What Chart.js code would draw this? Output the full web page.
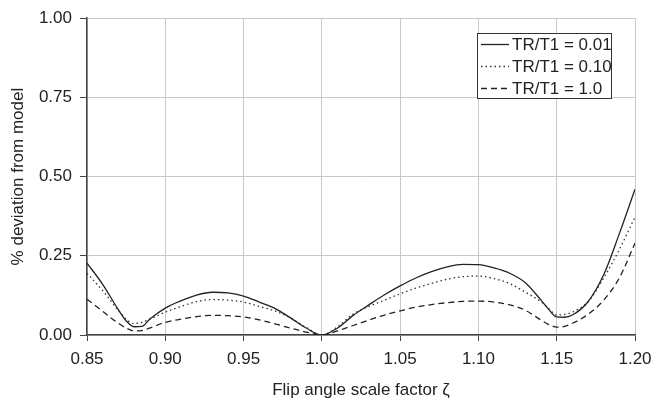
<!DOCTYPE html>
<html>
<head>
<meta charset="utf-8">
<script src="https://cdn.jsdelivr.net/npm/chart.js@4/dist/chart.umd.min.js"></script>
<style>
  html, body { margin: 0; padding: 0; background: #fff; }
  #wrap { position: relative; width: 665px; height: 402px; }
</style>
</head>
<body>
<div id="wrap"><canvas id="c" width="665" height="402"></canvas></div>
<script>
const xValues = [0.85,0.86,0.87,0.875,0.88,0.885,0.89,0.90,0.91,0.92,0.93,0.94,0.95,0.96,0.97,0.98,0.99,1.00,1.01,1.02,1.03,1.04,1.05,1.06,1.07,1.08,1.09,1.10,1.11,1.12,1.13,1.14,1.145,1.15,1.155,1.16,1.17,1.18,1.19,1.20];
const seriesLabels = ['TR/T1 = 0.01', 'TR/T1 = 0.10', 'TR/T1 = 1.0'];
const tr001 = [0.227,0.16,0.08,0.045,0.026,0.027,0.05,0.085,0.108,0.126,0.135,0.133,0.123,0.104,0.084,0.054,0.022,0.0,0.022,0.062,0.095,0.127,0.155,0.18,0.2,0.215,0.223,0.222,0.212,0.195,0.165,0.11,0.08,0.057,0.056,0.063,0.105,0.19,0.32,0.46];
const tr010 = [0.195,0.14,0.078,0.05,0.036,0.04,0.05,0.072,0.09,0.105,0.112,0.11,0.104,0.09,0.076,0.054,0.024,0.0,0.026,0.066,0.09,0.11,0.13,0.148,0.163,0.176,0.184,0.186,0.178,0.162,0.135,0.105,0.083,0.063,0.065,0.072,0.105,0.18,0.27,0.372];
const tr100 = [0.113,0.075,0.037,0.022,0.013,0.014,0.022,0.04,0.05,0.058,0.062,0.061,0.057,0.048,0.035,0.022,0.009,0.0,0.013,0.03,0.047,0.063,0.076,0.088,0.096,0.102,0.106,0.107,0.104,0.095,0.078,0.047,0.033,0.025,0.027,0.037,0.065,0.11,0.18,0.29];
const xTitle = 'Flip angle scale factor ζ';
const yTitle = '% deviation from model';

const FONT = "'Liberation Sans', Arial, sans-serif";
const toPts = arr => arr.map((v, i) => ({ x: xValues[i], y: v }));

const legendPlugin = {
  id: 'boxLegend',
  afterDraw(chart) {
    const ctx = chart.ctx;
    const x0 = 477.5, y0 = 33.5, w = 134, h = 65;
    ctx.save();
    ctx.fillStyle = '#fff';
    ctx.fillRect(x0, y0, w, h);
    ctx.strokeStyle = '#333';
    ctx.lineWidth = 1;
    ctx.setLineDash([]);
    ctx.strokeRect(x0, y0, w, h);
    const rows = [44, 66, 88];
    chart.data.datasets.forEach((ds, i) => {
      const y = rows[i] + 0.5;
      ctx.beginPath();
      ctx.setLineDash(ds.borderDash || []);
      ctx.strokeStyle = ds.borderColor;
      ctx.lineWidth = ds.borderWidth;
      ctx.moveTo(481, y);
      ctx.lineTo(509, y);
      ctx.stroke();
      ctx.setLineDash([]);
      ctx.fillStyle = '#222';
      ctx.font = '17px ' + FONT;
      ctx.textBaseline = 'middle';
      ctx.textAlign = 'left';
      ctx.fillText(ds.label, 512, rows[i] + 1);
    });
    ctx.restore();
  }
};

new Chart(document.getElementById('c'), {
  type: 'line',
  data: {
    datasets: [
      { label: seriesLabels[0], data: toPts(tr001), borderColor: '#222', borderWidth: 1.3, borderDash: [], pointRadius: 0, cubicInterpolationMode: 'monotone', fill: false },
      { label: seriesLabels[1], data: toPts(tr010), borderColor: '#333', borderWidth: 1.3, borderDash: [1.5, 3], pointRadius: 0, cubicInterpolationMode: 'monotone', fill: false },
      { label: seriesLabels[2], data: toPts(tr100), borderColor: '#222', borderWidth: 1.3, borderDash: [6, 4], pointRadius: 0, cubicInterpolationMode: 'monotone', fill: false }
    ]
  },
  options: {
    responsive: false,
    animation: false,
    layout: { padding: { left: 0, right: 30, top: 18, bottom: 0 } },
    plugins: { legend: { display: false }, tooltip: { enabled: false } },
    scales: {
      x: {
        type: 'linear', min: 0.85, max: 1.2,
        afterFit: s => { s.height = 67; },
        ticks: { stepSize: 0.05, callback: v => v.toFixed(2), color: '#222', font: { family: FONT, size: 17 }, padding: 8, maxRotation: 0 },
        grid: { color: '#c8c8c8', lineWidth: 1, tickColor: '#444', tickLength: 6 },
        border: { color: '#444', width: 1.5 },
        title: { display: true, text: xTitle, color: '#222', font: { family: FONT, size: 17 }, padding: { top: 0, bottom: 1 } }
      },
      y: {
        min: 0, max: 1,
        afterFit: s => { s.width = 87; },
        ticks: { stepSize: 0.25, callback: v => v.toFixed(2), color: '#222', font: { family: FONT, size: 17 }, padding: 8 },
        grid: { color: '#c8c8c8', lineWidth: 1, tickColor: '#444', tickLength: 7 },
        border: { color: '#444', width: 1.5 },
        title: { display: true, text: yTitle, color: '#222', font: { family: FONT, size: 17 }, padding: { top: 8, bottom: 0 } }
      }
    }
  },
  plugins: [legendPlugin]
});
</script>
</body>
</html>
